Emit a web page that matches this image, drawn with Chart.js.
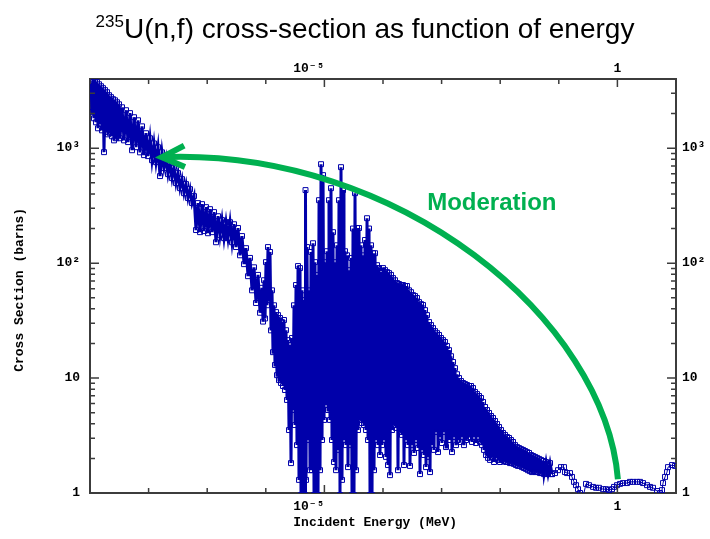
<!DOCTYPE html>
<html><head><meta charset="utf-8">
<script src="https://cdn.jsdelivr.net/npm/chart.js@4.4.1/dist/chart.umd.min.js"></script>
<style>
html,body{margin:0;padding:0;background:#fff;overflow:hidden;}
#wrap{position:relative;width:710px;height:539px;}
canvas{position:absolute;left:0;top:0;}
#title{position:absolute;left:0;top:13px;width:730px;text-align:center;font-family:'Liberation Sans',Arial,sans-serif;font-size:28px;line-height:32px;color:#000;white-space:nowrap;}
#title span{font-size:17px;position:relative;top:-11px;}
</style></head>
<body><div id="wrap"><canvas id="c" width="710" height="539"></canvas><div id="title"><span>235</span>U(n,f) cross-section as function of energy</div></div>
<script>
// ---- data (energy in MeV, cross-section in barns) ----
const thermalE = [1.04e-9,1.082e-9,1.125e-9,1.17e-9,1.217e-9,1.266e-9,1.317e-9,1.37e-9,1.425e-9,1.482e-9,
1.541e-9,1.603e-9,1.667e-9,1.734e-9,1.803e-9,1.876e-9,1.951e-9,2.029e-9,2.111e-9,2.195e-9,
2.283e-9,2.375e-9,2.47e-9,2.569e-9,2.672e-9,2.779e-9,2.891e-9,3.006e-9,3.127e-9,3.252e-9,
3.518e-9,3.806e-9,4.118e-9,4.455e-9,4.819e-9,5.214e-9,5.64e-9,6.102e-9,6.601e-9,7.142e-9,
7.726e-9,8.359e-9,9.043e-9,9.783e-9,
1.057e-8,1.143e-8,1.236e-8,1.338e-8,1.447e-8,1.566e-8,1.694e-8,1.833e-8,1.983e-8,2.145e-8,
2.32e-8,2.51e-8,2.715e-8,2.937e-8,3.178e-8,3.437e-8,3.718e-8,4.022e-8,4.352e-8,4.707e-8,
5.093e-8,5.509e-8,5.96e-8,6.448e-8,6.976e-8,7.547e-8,8.165e-8,8.833e-8,9.556e-8,
1.032e-7,1.116e-7,1.208e-7,1.307e-7,1.414e-7,1.529e-7,1.654e-7,1.789e-7,1.936e-7,2.094e-7,
2.265e-7,2.451e-7,2.651e-7,2.868e-7,3.103e-7,3.356e-7,3.631e-7,3.928e-7,4.25e-7,4.597e-7,
4.974e-7,5.38e-7,5.82e-7,6.297e-7,6.812e-7,7.37e-7,7.973e-7,8.625e-7,8.97e-7];
const thermalXS = [3750,2060,3980,1820,3900,1680,3750,1490,3600,1620,
3460,1430,3330,924,3200,1380,3070,1320,2890,1350,
2780,1270,2670,1170,2610,1220,2510,1270,2410,1220,
2270,1170,2140,1130,2020,960,1860,1020,1750,920,
1550,870,1350,853,
1220,787,1100,756,1020,572,920,671,819,595,
741,549,684,497,607,449,538,406,487,368,
440,333,383,194,333,186,326,190,307,
182,295,186,278,152,256,175,237,165,227,
165,227,152,218,138,202,117,172,98,135,
77,111,58,92,45,79,37,61,31];

const resonanceE = [9.33e-7,9.71e-7,1.008e-6,1.048e-6,1.09e-6,1.134e-6,1.179e-6,1.227e-6,1.276e-6,1.327e-6,
1.38e-6,1.436e-6,1.493e-6,1.553e-6,1.615e-6,1.68e-6,1.747e-6,1.818e-6,1.89e-6,1.967e-6,
2.045e-6,2.128e-6,2.212e-6,2.302e-6,2.393e-6,2.49e-6,2.589e-6,2.694e-6,2.8e-6,2.913e-6,
3.03e-6,3.15e-6,3.278e-6,3.408e-6,3.546e-6,3.687e-6,3.836e-6,3.99e-6,4.15e-6,4.317e-6,
4.49e-6,4.67e-6,4.76e-6,4.857e-6,5.05e-6,5.255e-6,5.466e-6,5.685e-6,5.913e-6,6.15e-6,
6.397e-6,6.654e-6,6.92e-6,7.198e-6,7.487e-6,7.787e-6,8.1e-6,8.425e-6,8.763e-6,9.114e-6,
9.48e-6,9.86e-6,1.024e-5,1.065e-5,1.108e-5,1.152e-5,1.198e-5,1.246e-5,1.296e-5,1.348e-5,
1.402e-5,1.458e-5,1.517e-5,1.578e-5,1.641e-5,1.707e-5,1.775e-5,1.847e-5,1.921e-5,1.998e-5,
2.078e-5,2.16e-5,2.248e-5,2.338e-5,2.432e-5,2.529e-5,2.631e-5,2.737e-5,2.846e-5,2.96e-5,
3.078e-5,3.202e-5,3.33e-5,3.464e-5,3.603e-5,3.748e-5,3.897e-5,4.054e-5,4.216e-5,4.385e-5,
4.561e-5,4.744e-5,4.934e-5,5.132e-5,5.338e-5,5.552e-5,5.775e-5,6.006e-5,6.25e-5,6.498e-5,
6.76e-5,7.03e-5,7.312e-5,7.605e-5,7.91e-5,8.227e-5,8.558e-5,8.9e-5,9.26e-5,9.628e-5,
1.0e-4,1.04e-4,1.082e-4,1.125e-4,1.17e-4,1.217e-4,1.266e-4,1.317e-4,1.37e-4,1.425e-4,
1.482e-4,1.541e-4,1.603e-4,1.667e-4,1.734e-4,1.803e-4,1.876e-4,1.951e-4,2.029e-4,2.111e-4,
2.195e-4,2.283e-4,2.375e-4,2.47e-4,2.569e-4,2.672e-4,2.779e-4,2.891e-4,3.006e-4,3.127e-4,
3.252e-4,3.383e-4,3.518e-4,3.659e-4,3.806e-4,3.959e-4,4.118e-4,4.283e-4,4.455e-4,4.633e-4,
4.819e-4,5.013e-4,5.214e-4,5.423e-4,5.64e-4,5.867e-4,6.102e-4,6.347e-4,6.601e-4,6.866e-4,
7.142e-4,7.428e-4,7.726e-4,8.036e-4,8.359e-4,8.694e-4,9.043e-4,9.406e-4,9.78e-4,1.016e-3,
1.057e-3,1.099e-3,1.143e-3,1.189e-3,1.236e-3,1.286e-3,1.338e-3,1.391e-3,1.447e-3,1.505e-3,
1.566e-3,1.628e-3,1.694e-3,1.761e-3,1.833e-3,1.905e-3,1.983e-3,2.061e-3,2.145e-3,2.23e-3,
2.32e-3,2.412e-3,2.51e-3,2.61e-3,2.715e-3,2.823e-3,2.937e-3,3.054e-3,3.178e-3,3.304e-3,
3.437e-3,3.574e-3,3.718e-3,3.867e-3,4.022e-3,4.183e-3,4.352e-3,4.525e-3,4.707e-3,4.896e-3,
5.093e-3,5.296e-3,5.509e-3,5.729e-3,5.96e-3,6.198e-3,6.448e-3,6.705e-3,6.976e-3,7.254e-3,
7.547e-3,7.848e-3,8.165e-3,8.49e-3,8.833e-3,9.185e-3,9.556e-3,9.937e-3,1.032e-2,1.073e-2,
1.116e-2,1.161e-2,1.208e-2,1.256e-2,1.307e-2,1.359e-2,1.414e-2,1.47e-2,1.529e-2,1.59e-2,
1.654e-2,1.72e-2,1.789e-2,1.861e-2,1.936e-2,2.013e-2,2.094e-2,2.178e-2,2.265e-2,2.356e-2,
2.451e-2,2.549e-2,2.651e-2,2.758e-2,2.868e-2,2.983e-2,3.103e-2,3.227e-2,3.356e-2,3.491e-2,
3.631e-2,3.777e-2,3.928e-2,4.086e-2,4.25e-2,4.42e-2,4.597e-2,4.782e-2,4.974e-2,5.173e-2,
5.38e-2,5.597e-2,6.055e-2,6.55e-2,7.086e-2,7.666e-2];
const resonanceXS = [71,33,102,43,138,48,125,26,58,16.8,
43,13,37.5,10.6,35.3,9.6,33.3,9.06,30.7,8.53,
32,7.87,26.1,6.45,21.4,3.53,19.4,1.82,22.3,5.27,
43,3.9,64.5,2.61,94.3,1.3,90.6,0.96,58,0.96,
47.7,0.96,432,1.3,138,2.89,58,1.58,125,1.58,
149,0.96,102,0.96,79,0.96,353,1.58,726,2.89,
583,4.32,102,5.83,127,5.27,353,4.32,449,2.89,
186,1.86,102,1.58,143,2.37,353,0.96,684,1.3,
432,2.89,127,2.61,117,1.68,86.9,2.61,111,0.96,
200,0.96,406,1.58,202,3.53,202,4.32,143,4.06,
117,3.9,159,3.53,246,2.89,200,0.96,143,0.96,
122,1.58,122,2.89,96,2.61,90.6,2.14,83.6,2.61,
90.6,2.89,86.9,2.06,83.6,1.75,81.9,1.43,79,3.53,
74.1,3.9,71,3.68,67.1,1.58,65.8,3.39,64.5,3.2,
64.5,1.75,63.2,2.89,63.2,2.61,58,1.72,55.9,2.61,
52.7,2.23,51.7,2.89,49.7,2.46,45.8,1.46,44,2.37,
43.2,2.14,39,1.68,35.3,2.06,30.7,1.52,28.9,2.61,
27.2,2.37,25.6,3.39,24.6,2.27,23.7,3.07,22.3,2.72,
21.4,3.39,20.6,2.51,19,3.39,17.5,2.89,15.5,2.27,
13.8,3.07,12.2,2.61,10.8,2.89,10,2.78,9.42,3.07,
9.06,2.61,8.87,2.89,8.7,3.01,8.53,3.07,8.53,2.78,
8.19,3.07,7.56,2.72,7.26,3.07,6.98,2.78,6.71,2.61,
6.19,2.37,5.6,2.14,5.27,2.02,4.97,1.94,4.68,2.06,
4.49,1.86,4.23,2.02,3.98,1.94,3.75,1.86,3.53,1.94,
3.33,1.9,3.2,1.86,3.07,1.86,3.01,1.82,2.89,1.82,
2.78,1.79,2.61,1.75,2.51,1.72,2.46,1.72,2.41,1.68,
2.37,1.65,2.32,1.62,2.27,1.58,2.23,1.55,2.14,1.52,
2.1,1.55,2.06,1.52,2.02,1.52,1.98,1.49,1.94,1.49,
1.9,1.46,1.86,1.46,1.82,1.46];

const fastE = [8.625e-2,9.707e-2,0.109,0.1227,0.1276,0.138,0.1553,0.168,0.1818,0.1967,
0.2128,0.2302,0.2589,0.2913,0.3278,0.3836,0.4318,0.4857,0.5685,0.6397,
0.7198,0.81,0.8763,0.985,1.108,1.246,1.458,1.641,1.847,2.16,
2.432,2.737,3.202,3.603,4.054,4.744,5.338,5.775,6.006,6.498,
7.03,7.312,8.558,9.628];
const fastXS = [1.49,1.58,1.68,1.68,1.52,1.49,1.49,1.38,1.25,1.17,
1.08,1.0,0.92,1.2,1.17,1.13,1.11,1.11,1.08,1.08,
1.06,1.08,1.13,1.17,1.2,1.22,1.22,1.25,1.25,1.25,
1.25,1.22,1.17,1.13,1.11,1.04,1.0,1.06,1.22,1.38,
1.52,1.68,1.75,1.72];

// ---- axes ----
const xMin = 1e-9, xMax = 10;
const yMin = 1, yMax = 4000;
const xTickValues = [1e-9,1e-8,1e-7,1e-6,1e-5,1e-4,1e-3,1e-2,1e-1,1,10];
const xLabelValues = [1e-5, 1];
const xLabelTexts = ['10⁻⁵', '1'];
const yTickValues = [1,2,3,4,5,6,7,8,9,10,20,30,40,50,60,70,80,90,100,200,300,400,500,600,700,800,900,1000,2000,3000];
const yLabelValues = [1, 10, 100, 1000];
const yLabelTexts = ['1', '10', '10²', '10³'];
const xTitle = 'Incident Energy (MeV)';
const yTitle = 'Cross Section (barns)';

// ---- annotation ----
const arrowE = [1.02, 0.614, 1.95e-4, 1.69e-8];
const arrowXS = [1.32, 31.9, 1000, 835];
const noteText = 'Moderation';
const noteE = 7.2e-3, noteXS = 333;

const sameValue = (a, b) => Math.abs(Math.log10(a) - Math.log10(b)) < 1e-6;
const isDecade = v => Math.abs(Math.log10(v) - Math.round(Math.log10(v))) < 1e-6;
const xLabel = v => {
  const i = xLabelValues.findIndex(u => sameValue(u, v));
  if (i < 0) return '';
  const t = xLabelTexts[i];
  return t.length > 1 ? t + '    ' : t;
};
const yLabel = v => {
  const i = yLabelValues.findIndex(u => sameValue(u, v));
  return i < 0 ? '' : yLabelTexts[i];
};
const pairs = (es, ss) => es.map((e, i) => ({x: e, y: ss[i]}));
const densePoints = [...pairs(thermalE, thermalXS), ...pairs(resonanceE, resonanceXS)];
const lastDense = densePoints[densePoints.length - 1];
const fastPoints = [lastDense, ...pairs(fastE, fastXS)];

const axisFont = {family: "'Liberation Mono','DejaVu Sans Mono',monospace", size: 13, weight: 'bold', lineHeight: 1.2};
const frame = {display: true, color: '#3c3c3c', width: 2};
const noGrid = {display: true, drawOnChartArea: false, drawTicks: false};

function xAxis(position, pad, height, title) {
  const a = {
    type: 'logarithmic', position, min: xMin, max: xMax,
    afterBuildTicks: s => { s.ticks = xTickValues.map(v => ({value: v})); },
    afterFit: s => { s.height = height; },
    grid: noGrid, border: frame,
    ticks: {autoSkip: false, maxRotation: 0, minRotation: 0, padding: pad, color: '#000', font: axisFont, callback: xLabel}
  };
  if (title) a.title = {display: true, text: title + '  ', color: '#000', font: axisFont, padding: {top: 0, bottom: 8}};
  return a;
}
function yAxis(position, pad, width, title) {
  const a = {
    type: 'logarithmic', position, min: yMin, max: yMax,
    afterBuildTicks: s => { s.ticks = yTickValues.map(v => ({value: v})); },
    afterFit: s => { s.width = width; },
    grid: noGrid, border: frame,
    ticks: {autoSkip: false, padding: pad, color: '#000', font: axisFont, callback: yLabel}
  };
  if (title) a.title = {display: true, text: title + ' ', color: '#000', font: axisFont, padding: {top: 12, bottom: 0}};
  return a;
}

const inwardTicks = {
  id: 'inwardTicks',
  afterDraw(chart) {
    const {ctx, chartArea: a, scales} = chart;
    ctx.save();
    ctx.strokeStyle = '#3c3c3c';
    ctx.lineWidth = 1.5;
    ctx.beginPath();
    ['x', 'x2'].forEach(id => {
      const s = scales[id];
      s.ticks.forEach(t => {
        const p = s.getPixelForValue(t.value);
        const len = xLabelValues.some(v => sameValue(v, t.value)) ? 8 : 5;
        if (id === 'x') { ctx.moveTo(p, a.bottom); ctx.lineTo(p, a.bottom - len); }
        else { ctx.moveTo(p, a.top); ctx.lineTo(p, a.top + len); }
      });
    });
    ['y', 'y2'].forEach(id => {
      const s = scales[id];
      s.ticks.forEach(t => {
        const p = s.getPixelForValue(t.value);
        const len = isDecade(t.value) ? 9 : 5;
        if (id === 'y') { ctx.moveTo(a.left, p); ctx.lineTo(a.left + len, p); }
        else { ctx.moveTo(a.right, p); ctx.lineTo(a.right - len, p); }
      });
    });
    ctx.stroke();
    ctx.restore();
  }
};

const moderation = {
  id: 'moderation',
  afterDatasetsDraw(chart) {
    const {ctx, scales: {x, y}} = chart;
    const pts = arrowE.map((e, i) => [x.getPixelForValue(e), y.getPixelForValue(arrowXS[i])]);
    ctx.save();
    ctx.strokeStyle = '#00b050';
    ctx.lineWidth = 6;
    ctx.lineCap = 'butt';
    ctx.lineJoin = 'miter';
    ctx.beginPath();
    ctx.moveTo(pts[0][0], pts[0][1]);
    ctx.bezierCurveTo(pts[1][0], pts[1][1], pts[2][0], pts[2][1], pts[3][0], pts[3][1]);
    ctx.stroke();
    const [tx, ty] = pts[3];
    const ang = Math.atan2(ty - pts[2][1], tx - pts[2][0]);
    const L = 25, h = 0.44;
    ctx.beginPath();
    ctx.moveTo(tx - L * Math.cos(ang - h), ty - L * Math.sin(ang - h));
    ctx.lineTo(tx, ty);
    ctx.lineTo(tx - L * Math.cos(ang + h), ty - L * Math.sin(ang + h));
    ctx.stroke();
    ctx.font = "bold 24px 'Liberation Sans', Arial, sans-serif";
    ctx.fillStyle = '#00b050';
    ctx.textAlign = 'center';
    ctx.textBaseline = 'middle';
    ctx.fillText(noteText, x.getPixelForValue(noteE), y.getPixelForValue(noteXS));
    ctx.restore();
  }
};

const markerStyle = {
  showLine: true, tension: 0, borderColor: '#0000aa',
  pointStyle: 'rect', pointRadius: 3.5, pointBorderWidth: 1,
  pointBorderColor: '#0000aa', pointBackgroundColor: 'rgba(255,255,255,0)'
};

new Chart(document.getElementById('c'), {
  type: 'scatter',
  data: {datasets: [
    {...markerStyle, data: densePoints, borderWidth: 3},
    {...markerStyle, data: fastPoints, borderWidth: 1}
  ]},
  options: {
    responsive: false, animation: false, devicePixelRatio: 1, events: [],
    layout: {padding: 0},
    plugins: {legend: {display: false}, title: {display: false}, tooltip: {enabled: false}},
    scales: {
      x: xAxis('bottom', 6, 46, xTitle),
      x2: xAxis('top', 2, 79),
      y: yAxis('left', 10, 90, yTitle),
      y2: yAxis('right', 6, 34)
    }
  },
  plugins: [inwardTicks, moderation]
});
</script>
</body></html>
